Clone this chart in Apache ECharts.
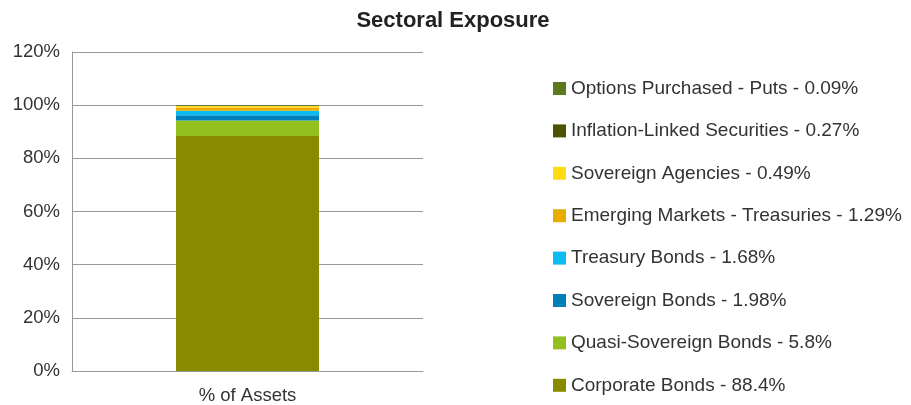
<!DOCTYPE html>
<html><head><meta charset="utf-8">
<script src="https://cdn.jsdelivr.net/npm/echarts@6/dist/echarts.min.js"></script>
<style>html,body{margin:0;padding:0;background:#fff}#c{width:911px;height:405px}</style>
</head><body><div id="c"></div>
<script>
const categories = ['% of Assets'];
const seriesNames = ['Corporate Bonds', 'Quasi-Sovereign Bonds', 'Sovereign Bonds', 'Treasury Bonds', 'Emerging Markets - Treasuries', 'Sovereign Agencies', 'Inflation-Linked Securities', 'Options Purchased - Puts'];
const seriesValues = [88.4, 5.8, 1.98, 1.68, 1.29, 0.49, 0.27, 0.09];
const seriesColors = ['#8a8a00', '#93c01f', '#0080bb', '#0cbbf0', '#e8ac00', '#ffdb14', '#4f5200', '#5b7a1c'];
const yTicks = [0, 20, 40, 60, 80, 100, 120];

const chart = echarts.init(document.getElementById('c'));
const series = seriesNames.map((n, i) => ({
  name: n, type: 'bar', stack: 'total', barWidth: 143,
  data: [seriesValues[i]],
  itemStyle: { color: seriesColors[i] },
  emphasis: { disabled: true }
}));
const legendData = seriesNames.map((n, i) => ({ name: n })).reverse();
chart.setOption({
  animation: false,
  title: { text: 'Sectoral Exposure', left: 448, textAlign: 'center', top: 5,
    textStyle: { fontFamily: 'Liberation Sans, Arial', fontSize: 22, fontWeight: 'bold', color: '#222' } },
  grid: { left: 72, top: 52, width: 351, height: 320 },
  legend: {
    orient: 'vertical', left: 548, top: 74, height: 340, itemWidth: 13, itemHeight: 13, itemGap: 23.4,
    icon: 'rect', selectedMode: false,
    formatter: name => name + ' - ' + seriesValues[seriesNames.indexOf(name)] + '%',
    textStyle: { fontFamily: 'Liberation Sans, Arial', fontSize: 19, color: '#333' },
    data: legendData
  },
  xAxis: {
    type: 'category', data: categories,
    axisLine: { lineStyle: { color: '#999' } }, axisTick: { show: false },
    axisLabel: { fontFamily: 'Liberation Sans, Arial', fontSize: 18.5, color: '#333', margin: 15 }
  },
  yAxis: {
    type: 'value', min: yTicks[0], max: yTicks[yTicks.length - 1], interval: 20,
    axisLine: { show: true, lineStyle: { color: '#999' } }, axisTick: { show: false },
    splitLine: { lineStyle: { color: '#999' } },
    axisLabel: { fontFamily: 'Liberation Sans, Arial', fontSize: 18.5, color: '#333', margin: 12, formatter: v => v + '%' }
  },
  series: series
});
</script></body></html>
